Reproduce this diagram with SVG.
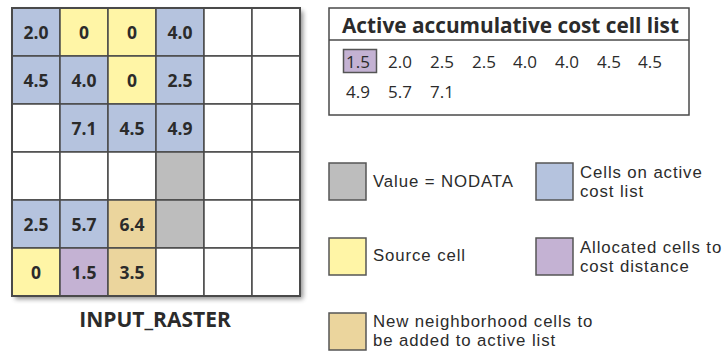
<svg xmlns="http://www.w3.org/2000/svg" width="727" height="352" viewBox="0 0 727 352">
  <defs>
    <filter id="shadow" x="-10%" y="-10%" width="130%" height="130%">
      <feGaussianBlur in="SourceAlpha" stdDeviation="2.5"/>
      <feOffset dx="3" dy="3" result="b"/>
      <feComponentTransfer><feFuncA type="linear" slope="0.45"/></feComponentTransfer>
      <feMerge><feMergeNode/><feMergeNode in="SourceGraphic"/></feMerge>
    </filter>
    <style>
      .cell { stroke: #4a4a4a; stroke-width: 1.5; }
      .w { fill: #ffffff; }
      .b { fill: #b5c3de; }
      .y { fill: #fff5a6; }
      .p { fill: #c4b2d3; }
      .t { fill: #ebd59d; }
      .g { fill: #bdbdbd; }
      .v { font-family: "Open Sans", "Noto Sans", sans-serif; font-weight: bold; font-size: 17.5px; fill: #2b2b2b; text-anchor: middle; }
      .n { font-family: "Open Sans", "Noto Sans", sans-serif; font-size: 17px; fill: #2b2b2b; }
      .lg { font-family: "Liberation Sans", Arial, sans-serif; font-size: 16.8px; letter-spacing: 0.9px; fill: #2b2b2b; }
      .sw { stroke: #555555; stroke-width: 1.5; }
    </style>
  </defs>

  <!-- raster grid, 6 x 6 cells of 48 px -->
  <g id="input-raster">
    <rect x="12" y="8" width="288" height="288" fill="#ffffff" filter="url(#shadow)"/>
    <!-- row 1 -->
    <rect class="cell b" x="12" y="8" width="48" height="48"/>
    <rect class="cell y" x="60" y="8" width="48" height="48"/>
    <rect class="cell y" x="108" y="8" width="48" height="48"/>
    <rect class="cell b" x="156" y="8" width="48" height="48"/>
    <rect class="cell w" x="204" y="8" width="48" height="48"/>
    <rect class="cell w" x="252" y="8" width="48" height="48"/>
    <!-- row 2 -->
    <rect class="cell b" x="12" y="56" width="48" height="48"/>
    <rect class="cell b" x="60" y="56" width="48" height="48"/>
    <rect class="cell y" x="108" y="56" width="48" height="48"/>
    <rect class="cell b" x="156" y="56" width="48" height="48"/>
    <rect class="cell w" x="204" y="56" width="48" height="48"/>
    <rect class="cell w" x="252" y="56" width="48" height="48"/>
    <!-- row 3 -->
    <rect class="cell w" x="12" y="104" width="48" height="48"/>
    <rect class="cell b" x="60" y="104" width="48" height="48"/>
    <rect class="cell b" x="108" y="104" width="48" height="48"/>
    <rect class="cell b" x="156" y="104" width="48" height="48"/>
    <rect class="cell w" x="204" y="104" width="48" height="48"/>
    <rect class="cell w" x="252" y="104" width="48" height="48"/>
    <!-- row 4 -->
    <rect class="cell w" x="12" y="152" width="48" height="48"/>
    <rect class="cell w" x="60" y="152" width="48" height="48"/>
    <rect class="cell w" x="108" y="152" width="48" height="48"/>
    <rect class="cell g" x="156" y="152" width="48" height="48"/>
    <rect class="cell w" x="204" y="152" width="48" height="48"/>
    <rect class="cell w" x="252" y="152" width="48" height="48"/>
    <!-- row 5 -->
    <rect class="cell b" x="12" y="200" width="48" height="48"/>
    <rect class="cell b" x="60" y="200" width="48" height="48"/>
    <rect class="cell t" x="108" y="200" width="48" height="48"/>
    <rect class="cell g" x="156" y="200" width="48" height="48"/>
    <rect class="cell w" x="204" y="200" width="48" height="48"/>
    <rect class="cell w" x="252" y="200" width="48" height="48"/>
    <!-- row 6 -->
    <rect class="cell y" x="12" y="248" width="48" height="48"/>
    <rect class="cell p" x="60" y="248" width="48" height="48"/>
    <rect class="cell t" x="108" y="248" width="48" height="48"/>
    <rect class="cell w" x="156" y="248" width="48" height="48"/>
    <rect class="cell w" x="204" y="248" width="48" height="48"/>
    <rect class="cell w" x="252" y="248" width="48" height="48"/>
    <rect x="12" y="8" width="288" height="288" fill="none" stroke="#4a4a4a" stroke-width="2"/>

    <!-- cell values -->
    <text class="v" x="36" y="39">2.0</text>
    <text class="v" x="84" y="39">0</text>
    <text class="v" x="132" y="39">0</text>
    <text class="v" x="180" y="39">4.0</text>
    <text class="v" x="36" y="87">4.5</text>
    <text class="v" x="84" y="87">4.0</text>
    <text class="v" x="132" y="87">0</text>
    <text class="v" x="180" y="87">2.5</text>
    <text class="v" x="84" y="135">7.1</text>
    <text class="v" x="132" y="135">4.5</text>
    <text class="v" x="180" y="135">4.9</text>
    <text class="v" x="36" y="231">2.5</text>
    <text class="v" x="84" y="231">5.7</text>
    <text class="v" x="132" y="231">6.4</text>
    <text class="v" x="36" y="279">0</text>
    <text class="v" x="84" y="279">1.5</text>
    <text class="v" x="132" y="279">3.5</text>

    <text x="155" y="327" font-family="'Open Sans', 'Noto Sans', sans-serif" font-weight="bold" font-size="21" fill="#2b2b2b" text-anchor="middle">INPUT_RASTER</text>
  </g>

  <!-- active list panel -->
  <g id="active-list">
    <rect x="329" y="8" width="360" height="107" fill="#ffffff" stroke="#4a4a4a" stroke-width="1.5"/>
    <line x1="329" y1="40" x2="689" y2="40" stroke="#4a4a4a" stroke-width="1.5"/>
    <text x="342" y="33" font-family="'Open Sans', 'Noto Sans', sans-serif" font-weight="bold" font-size="20.8" fill="#2b2b2b">Active accumulative cost cell list</text>
    <rect x="343.5" y="49.5" width="33" height="23" fill="#c4b2d3" stroke="#555555" stroke-width="1.5"/>
    <text class="n" x="346" y="68">1.5</text>
    <text class="n" x="388" y="68">2.0</text>
    <text class="n" x="430" y="68">2.5</text>
    <text class="n" x="472" y="68">2.5</text>
    <text class="n" x="513" y="68">4.0</text>
    <text class="n" x="555" y="68">4.0</text>
    <text class="n" x="597" y="68">4.5</text>
    <text class="n" x="638" y="68">4.5</text>
    <text class="n" x="346" y="98">4.9</text>
    <text class="n" x="388" y="98">5.7</text>
    <text class="n" x="430" y="98">7.1</text>
  </g>

  <!-- legend -->
  <g id="legend-nodata">
    <rect class="sw g" x="329" y="163" width="37" height="37"/>
    <text class="lg" x="373" y="187">Value = NODATA</text>
  </g>
  <g id="legend-active">
    <rect class="sw b" x="536" y="163" width="37" height="37"/>
    <text class="lg"><tspan x="580" y="178">Cells on active</tspan><tspan x="580" y="197">cost list</tspan></text>
  </g>
  <g id="legend-source">
    <rect class="sw y" x="329" y="238" width="37" height="37"/>
    <text class="lg" x="373" y="261">Source cell</text>
  </g>
  <g id="legend-allocated">
    <rect class="sw p" x="536" y="238" width="37" height="37"/>
    <text class="lg"><tspan x="580" y="253">Allocated cells to</tspan><tspan x="580" y="272">cost distance</tspan></text>
  </g>
  <g id="legend-new">
    <rect class="sw t" x="329" y="313" width="37" height="37"/>
    <text class="lg"><tspan x="373" y="327">New neighborhood cells to</tspan><tspan x="373" y="346">be added to active list</tspan></text>
  </g>

  <g id="connectors"/>
</svg>
